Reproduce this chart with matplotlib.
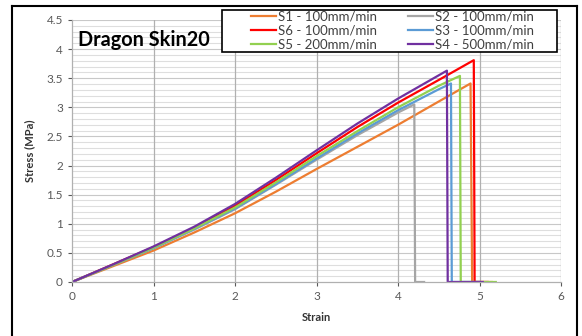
import numpy as np
import matplotlib.pyplot as plt
from matplotlib.lines import Line2D
from matplotlib.patches import Rectangle

# Strain / stress readings for each specimen
s1_strain = [0, 0.5, 1, 1.5, 2, 2.5, 3, 3.5, 4, 4.5, 4.89, 4.91, 5.15]
s1_stress = [0, 0.27, 0.54, 0.85, 1.18, 1.55, 1.94, 2.32, 2.70, 3.10, 3.41, 0, 0]

s2_strain = [0, 0.5, 1, 1.5, 2, 2.5, 3, 3.5, 4, 4.2, 4.21, 4.32]
s2_stress = [0, 0.29, 0.58, 0.90, 1.25, 1.67, 2.10, 2.52, 2.91, 3.05, 0, 0]

s6_strain = [0, 0.5, 1, 1.5, 2, 2.5, 3, 3.5, 4, 4.5, 4.93, 4.94, 5.1]
s6_stress = [0, 0.30, 0.60, 0.93, 1.31, 1.75, 2.21, 2.66, 3.08, 3.47, 3.81, 0, 0]

s3_strain = [0, 0.5, 1, 1.5, 2, 2.5, 3, 3.5, 4, 4.5, 4.65, 4.66, 5.0]
s3_stress = [0, 0.29, 0.58, 0.91, 1.26, 1.68, 2.12, 2.55, 2.95, 3.31, 3.41, 0, 0]

s5_strain = [0, 0.5, 1, 1.5, 2, 2.5, 3, 3.5, 4, 4.5, 4.76, 4.77, 5.2]
s5_stress = [0, 0.29, 0.59, 0.92, 1.28, 1.71, 2.16, 2.59, 3.00, 3.37, 3.54, 0, 0]

s4_strain = [0, 0.5, 1, 1.5, 2, 2.5, 3, 3.5, 4, 4.6, 4.61, 5.04]
s4_stress = [0, 0.30, 0.61, 0.95, 1.34, 1.79, 2.26, 2.72, 3.15, 3.63, 0, 0]

plt.rcParams['font.family'] = ['Lato', 'DejaVu Sans']

W, H = 582, 336
fig = plt.figure(figsize=(W/100, H/100), dpi=100)
ax = fig.add_axes([72/W, 1-282/H, (561-72)/W, (282-20)/H])

# outer chart frame (bottom edge is off the picture)
fw = 1.5
fig.add_artist(Line2D([12/W, 12/W], [-0.1, 1-6/H], color='black', lw=fw, transform=fig.transFigure))
fig.add_artist(Line2D([12/W, 577/W], [1-6/H, 1-6/H], color='black', lw=fw, transform=fig.transFigure))
fig.add_artist(Line2D([577/W, 577/W], [-0.1, 1-6/H], color='black', lw=fw, transform=fig.transFigure))

# grid
for y in np.arange(0.1, 4.51, 0.1):
    major = abs(y / 0.5 - round(y / 0.5)) < 1e-6
    ax.axhline(y, color='#c8c8c8' if major else '#dedede', lw=0.8, zorder=0)
for x in range(1, 7):
    ax.axvline(x, color='#b0b0b0', lw=0.9, zorder=0)

lw = 1.6
h1, = ax.plot(s1_strain, s1_stress, color='#ED7D31', lw=lw, label='S1 - 100mm/min')
h2, = ax.plot(s2_strain, s2_stress, color='#A5A5A5', lw=lw, label='S2 - 100mm/min')
h6, = ax.plot(s6_strain, s6_stress, color='#FF0000', lw=lw, label='S6 - 100mm/min')
h3, = ax.plot(s3_strain, s3_stress, color='#5B9BD5', lw=lw, label='S3 - 100mm/min')
h5, = ax.plot(s5_strain, s5_stress, color='#92D050', lw=lw, label='S5 - 200mm/min')
h4, = ax.plot(s4_strain, s4_stress, color='#7030A0', lw=lw, label='S4 - 500mm/min')

ax.set_xlim(0, 6)
ax.set_ylim(0, 4.5)
ax.set_xticks(range(0, 7))
ax.set_yticks(np.arange(0, 4.51, 0.5))
ax.set_yticklabels(['0', '0.5', '1', '1.5', '2', '2.5', '3', '3.5', '4', '4.5'])
ax.tick_params(labelsize=8.5, colors='#595959', length=3, width=0.8)
for sp in ['top', 'right']:
    ax.spines[sp].set_visible(False)
for sp in ['left', 'bottom']:
    ax.spines[sp].set_color('#b0b0b0')
    ax.spines[sp].set_linewidth(0.9)

ax.set_xlabel('Strain', fontsize=8, fontweight='bold', color='#333333', labelpad=7)
ax.set_ylabel('Stress (MPa)', fontsize=8, fontweight='bold', color='#333333', labelpad=8)

ax.text(0.012, 0.925, 'Dragon Skin20', transform=ax.transAxes, fontsize=14.3,
        fontweight='bold', color='black', va='center', ha='left')

# legend box drawn separately (Excel leaves a wide left margin)
box = Rectangle((222/W, 1-52/H), (557-222)/W, 42/H, transform=fig.transFigure,
                facecolor='white', edgecolor='black', lw=1.2, zorder=5, clip_on=False)
ax.add_patch(box)
leg = ax.legend(handles=[h1, h6, h5, h2, h3, h4], ncol=2, loc='upper left',
                bbox_to_anchor=(250/W, 1-9/H), bbox_transform=fig.transFigure,
                fontsize=9.5, frameon=False,
                handlelength=1.9, handletextpad=0.1, columnspacing=2.4,
                labelspacing=0.15, borderpad=0.1, borderaxespad=0)
leg.set_zorder(6)
for t in leg.get_texts():
    t.set_color('#404040')

fig.savefig('out.png', dpi=100)
